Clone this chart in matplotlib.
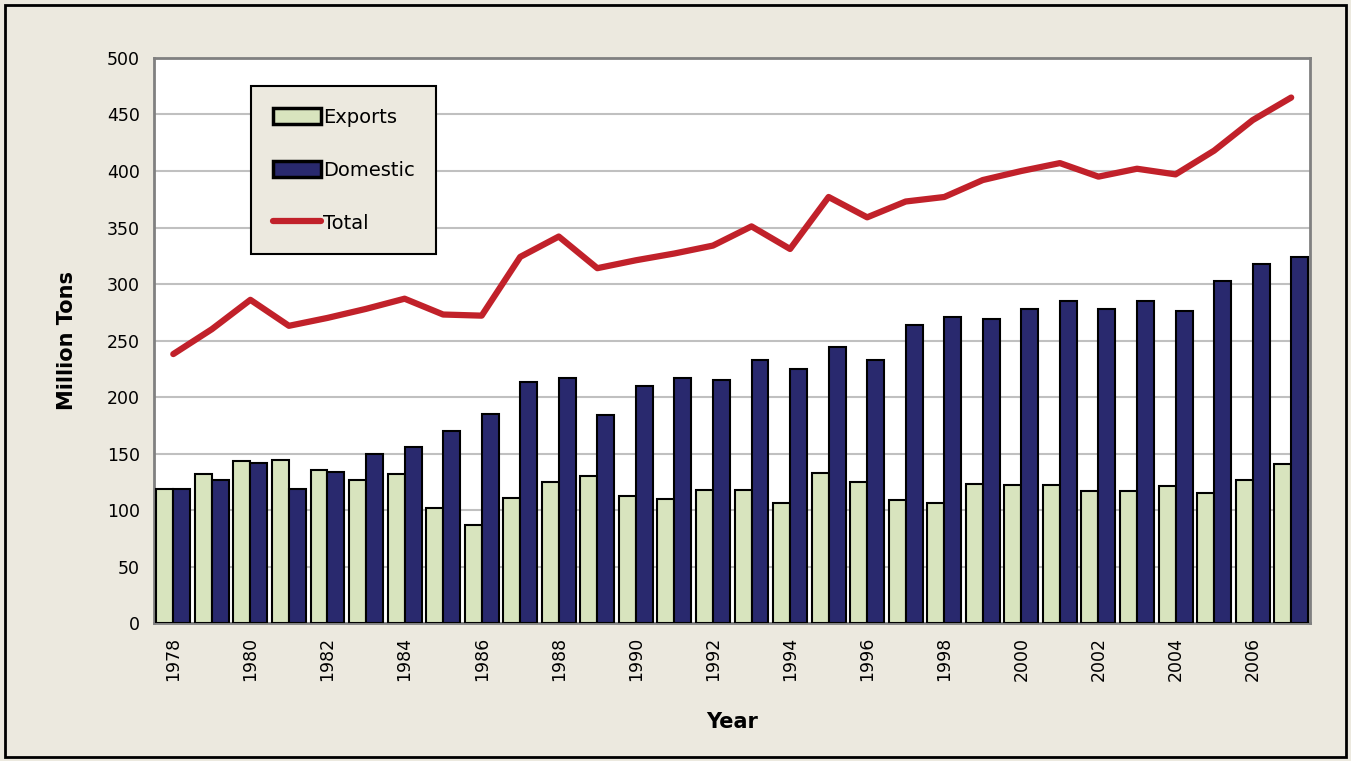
import numpy as np
import matplotlib
matplotlib.use('Agg')
import matplotlib.pyplot as plt
from matplotlib.patches import Rectangle

# data (million tons)
years = list(range(1978, 2008))
exports = [119, 132, 143, 144, 135, 127, 132, 102, 87, 111,
           125, 130, 112, 110, 118, 118, 106, 133, 125, 109,
           106, 123, 122, 122, 117, 117, 121, 115, 127, 141]
domestic = [119, 127, 142, 119, 134, 150, 156, 170, 185, 213,
            217, 184, 210, 217, 215, 233, 225, 244, 233, 264,
            271, 269, 278, 285, 278, 285, 276, 303, 318, 324]
total = [238, 260, 286, 263, 270, 278, 287, 273, 272, 324,
         342, 314, 321, 327, 334, 351, 331, 377, 359, 373,
         377, 392, 400, 407, 395, 402, 397, 418, 445, 465]

bg = '#ECE9DF'
fig = plt.figure(figsize=(13.51, 7.61), dpi=100, facecolor=bg)
ax = fig.add_axes([0.114, 0.1813, 0.856, 0.7425])
ax.set_facecolor('white')

x = np.arange(len(years))
w = 0.44
b1 = ax.bar(x - w / 2, exports, width=w, color='#D8E4BE', edgecolor='black',
            linewidth=1.5, label='Exports', zorder=3)
b2 = ax.bar(x + w / 2, domestic, width=w, color='#29296E', edgecolor='black',
            linewidth=1.5, label='Domestic', zorder=3)
ln, = ax.plot(x, total, color='#C1212A', linewidth=4.5, label='Total', zorder=4,
              solid_capstyle='round')

ax.set_xlim(-0.5, len(years) - 0.5)
ax.set_ylim(0, 500)
ax.set_yticks(range(0, 501, 50))
ax.yaxis.grid(True, color='#C0C0C0', linewidth=1.5, zorder=0)
ax.set_xticks(x[::2])
ax.set_xticklabels([str(y) for y in years[::2]], rotation=90)
ax.tick_params(axis='both', length=0, labelsize=12.5, pad=10)
for s in ax.spines.values():
    s.set_color('#808080')
    s.set_linewidth(2)

ax.set_ylabel('Million Tons', fontsize=15, fontweight='bold', labelpad=22)
ax.set_xlabel('Year', fontsize=15, fontweight='bold', labelpad=22)

leg = ax.legend([b1, b2, ln], ['Exports', 'Domestic', 'Total'],
                loc='upper left', bbox_to_anchor=(0.084, 0.95), fontsize=14,
                facecolor=bg, edgecolor='black', framealpha=1, fancybox=False,
                labelspacing=1.75, handlelength=2.5, handleheight=0.9,
                handletextpad=0.1, borderpad=1.1, borderaxespad=0)
leg.get_frame().set_linewidth(1.5)
for p in leg.get_patches():
    p.set_linewidth(2.5)

# outer frame around the whole figure
fig.patches.append(Rectangle((0.004, 0.005), 0.992, 0.988, transform=fig.transFigure,
                             fill=False, edgecolor='black', linewidth=2))

fig.savefig('out.png', dpi=100, facecolor=bg)
